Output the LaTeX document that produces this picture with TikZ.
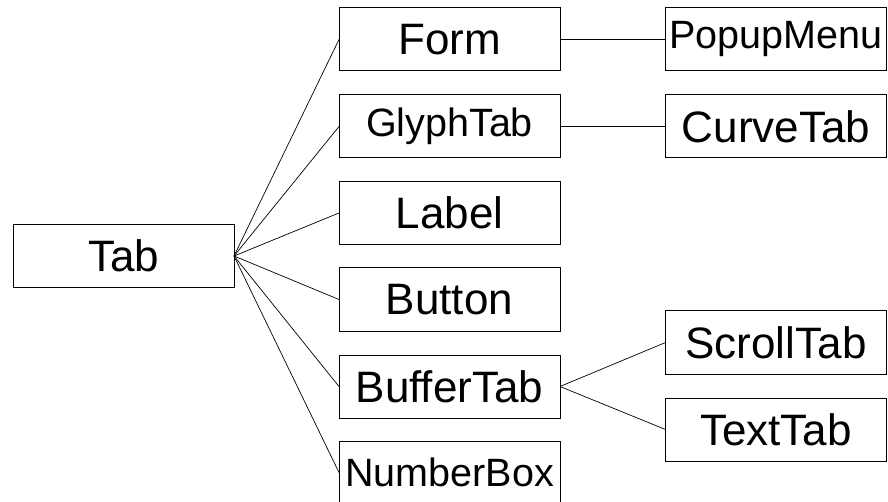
\documentclass[tikz,border=0pt]{standalone}
\usepackage{fontspec}
\setmainfont{Liberation Sans}
\begin{document}
\begin{tikzpicture}[x=1pt,y=-1pt,
  cls/.style={draw=black, line width=1pt, minimum width=221pt, minimum height=63pt,
    inner sep=0pt, outer sep=0pt, font=\fontsize{44}{44}\selectfont},
  small/.style={font=\fontsize{39.5}{40}\selectfont},
  link/.style={draw=black, line width=0.7pt}]
\useasboundingbox (0,0) rectangle (888,502);
\node[cls] (tab) at (123.5,256) {Tab};
\node[cls] (form) at (449.5,39.5) {Form};
\node[cls,small] (glyph) at (449.5,126.5) {GlyphTab};
\node[cls] (label) at (449.5,213) {Label};
\node[cls] (button) at (449.5,299.5) {Button};
\node[cls] (buffer) at (449.5,386.5) {BufferTab};
\node[cls,small] (number) at (449.5,472.5) {NumberBox};
\node[cls,small] (popup) at (776,39.5) {PopupMenu};
\node[cls] (curve) at (776,126.5) {CurveTab};
\node[cls] (scroll) at (776,342.5) {ScrollTab};
\node[cls] (text) at (776,429.5) {TextTab};
\foreach \n in {form,glyph,label,button,buffer,number}
  \draw[link] (tab.east) -- (\n.west);
\draw[link] (form.east) -- (popup.west);
\draw[link] (glyph.east) -- (curve.west);
\draw[link] (buffer.east) -- (scroll.west);
\draw[link] (buffer.east) -- (text.west);
\end{tikzpicture}
\end{document}
